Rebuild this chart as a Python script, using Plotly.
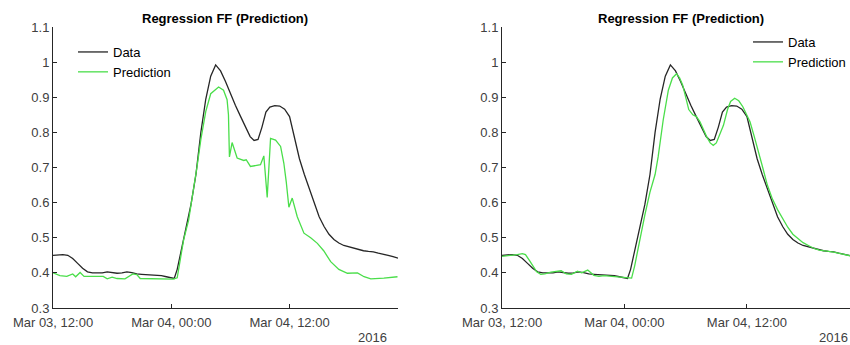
import pandas as pd
import plotly.graph_objects as go

# ---------------- data (hours after 2016-03-03 12:00) ----------------
data_hours = [0, 0.5, 1.0, 1.5, 2.0, 2.5, 3.0, 3.5, 4.0, 4.5, 5.0, 5.5, 6.0, 6.5, 7.0, 7.5,
              8.0, 8.5, 9.0, 9.5, 10.0, 10.5, 11.0, 11.5, 12.0, 12.3, 12.6, 13.0, 13.5, 14.0,
              14.5, 15.0, 15.5, 16.0, 16.5, 17.0, 17.5, 18.0, 18.5, 19.0, 19.5, 20.0, 20.4,
              20.8, 21.2, 21.6, 22.0, 22.5, 23.0, 23.5, 24.0, 24.5, 25.0, 25.5, 26.0, 26.5,
              27.0, 27.5, 28.0, 28.5, 29.0, 29.5, 30.0, 30.5, 31.0, 31.5, 32.0, 32.5, 33.0,
              33.5, 34.0, 34.5, 35.0]
data_vals = [0.450, 0.451, 0.452, 0.450, 0.441, 0.427, 0.413, 0.403, 0.400, 0.400, 0.400,
             0.403, 0.401, 0.399, 0.400, 0.403, 0.401, 0.397, 0.396, 0.395, 0.395, 0.394,
             0.392, 0.389, 0.386, 0.384, 0.410, 0.465, 0.535, 0.595, 0.680, 0.800, 0.895,
             0.960, 0.992, 0.975, 0.945, 0.910, 0.877, 0.847, 0.815, 0.788, 0.777, 0.780,
             0.815, 0.858, 0.872, 0.876, 0.875, 0.866, 0.845, 0.785, 0.725, 0.680, 0.638,
             0.600, 0.560, 0.532, 0.510, 0.495, 0.485, 0.478, 0.474, 0.470, 0.467, 0.463,
             0.461, 0.460, 0.456, 0.454, 0.450, 0.446, 0.442]

pred_left_hours = [0, 0.7, 1.4, 2.0, 2.3, 2.75, 3.15, 4.3, 5.1, 5.5, 6.0, 6.5, 7.3, 8.1, 8.5,
                   8.85, 9.9, 12.2, 12.6, 13.0, 13.25, 13.76, 14.1, 14.6, 15.0, 15.5, 16.0,
                   16.8, 17.3, 17.66, 17.8, 17.9, 18.17, 18.68, 19.35, 19.6, 20.03, 20.5, 21.05,
                   21.39, 21.73, 22.07, 22.58, 23.09, 23.42, 23.66, 23.93, 24.27, 24.78, 25.46,
                   26.14, 26.82, 27.46, 28.17, 29.0, 29.87, 30.89, 31.56, 32.24, 33.56, 34.95]
pred_left_vals = [0.400, 0.392, 0.390, 0.397, 0.389, 0.401, 0.390, 0.390, 0.390, 0.383, 0.388,
                  0.384, 0.383, 0.397, 0.395, 0.384, 0.383, 0.382, 0.386, 0.450, 0.494, 0.550,
                  0.608, 0.700, 0.780, 0.860, 0.910, 0.929, 0.920, 0.893, 0.850, 0.730, 0.771,
                  0.727, 0.720, 0.722, 0.703, 0.705, 0.708, 0.733, 0.615, 0.783, 0.778, 0.760,
                  0.712, 0.660, 0.587, 0.613, 0.560, 0.513, 0.500, 0.484, 0.463, 0.432, 0.410,
                  0.399, 0.400, 0.389, 0.383, 0.385, 0.389]

pred_right_hours = [0, 0.5, 1.0, 1.5, 2.0, 2.3, 2.7, 3.0, 3.4, 3.8, 4.2, 4.8, 5.4, 5.8, 6.3,
                    6.8, 7.4, 7.8, 8.4, 9.0, 9.5, 10.0, 10.5, 11.0, 11.5, 12.0, 12.7, 13.0,
                    13.5, 14.0, 14.5, 15.0, 15.3, 15.8, 16.3, 16.7, 17.1, 17.4, 17.7, 18.0,
                    18.3, 18.7, 19.05, 19.4, 19.7, 20.05, 20.4, 20.7, 21.0, 21.3, 21.7, 22.1,
                    22.4, 22.8, 23.2, 23.6, 24.0, 24.3, 24.7, 25.1, 25.5, 26.0, 26.5, 27.0,
                    27.5, 28.0, 28.5, 28.9, 29.5, 30.2, 30.7, 31.1, 31.6, 32.0, 32.5, 33.0,
                    33.5, 34.1, 35.0]
pred_right_vals = [0.447, 0.448, 0.450, 0.452, 0.455, 0.452, 0.435, 0.420, 0.403, 0.396,
                   0.397, 0.402, 0.404, 0.406, 0.397, 0.396, 0.405, 0.400, 0.408, 0.393,
                   0.390, 0.392, 0.391, 0.390, 0.388, 0.386, 0.385, 0.420, 0.494, 0.565,
                   0.630, 0.680, 0.730, 0.836, 0.920, 0.955, 0.967, 0.955, 0.935, 0.895,
                   0.865, 0.850, 0.845, 0.830, 0.810, 0.788, 0.770, 0.763, 0.770, 0.790,
                   0.820, 0.865, 0.888, 0.897, 0.890, 0.873, 0.850, 0.830, 0.790, 0.750,
                   0.705, 0.650, 0.610, 0.580, 0.555, 0.530, 0.510, 0.500, 0.486, 0.475,
                   0.468, 0.465, 0.462, 0.461, 0.459, 0.456, 0.453, 0.448, 0.443]

tick_hours = [0, 12, 24]
tick_labels = ["Mar 03, 12:00", "Mar 04, 00:00", "Mar 04, 12:00"]
y_ticks = [0.3, 0.4, 0.5, 0.6, 0.7, 0.8, 0.9, 1.0, 1.1]
y_tick_labels = ["0.3", "0.4", "0.5", "0.6", "0.7", "0.8", "0.9", "1", "1.1"]
title_text = "Regression FF (Prediction)"
year_text = "2016"

base = pd.Timestamp("2016-03-03 12:00")
def to_time(hours):
    return [base + pd.Timedelta(hours=h) for h in hours]

W, H = 850, 345
BLACK = "#262626"
GREEN = "#4ade4a"
FONT = "Liberation Sans, Arial, sans-serif"

fig = go.Figure()
fig.add_trace(go.Scatter(x=to_time(data_hours), y=data_vals, mode="lines", name="Data",
                         line=dict(color=BLACK, width=1.3), xaxis="x", yaxis="y", legend="legend"))
fig.add_trace(go.Scatter(x=to_time(pred_left_hours), y=pred_left_vals, mode="lines", name="Prediction",
                         line=dict(color=GREEN, width=1.3), xaxis="x", yaxis="y", legend="legend"))
fig.add_trace(go.Scatter(x=to_time(data_hours), y=data_vals, mode="lines", name="Data",
                         line=dict(color=BLACK, width=1.3), xaxis="x2", yaxis="y2", legend="legend2"))
fig.add_trace(go.Scatter(x=to_time(pred_right_hours), y=pred_right_vals, mode="lines", name="Prediction",
                         line=dict(color=GREEN, width=1.3), xaxis="x2", yaxis="y2", legend="legend2"))

def px_x(p):
    return p / W

def px_y(p):
    return 1 - p / H

xcommon = dict(type="date", showgrid=False, zeroline=False, showline=True, linecolor=BLACK,
               linewidth=1, ticks="inside", ticklen=4, tickcolor=BLACK, automargin=False,
               tickvals=to_time(tick_hours), ticktext=tick_labels, ticklabelstandoff=2,
               tickfont=dict(family=FONT, size=13, color="#404040"))
ycommon = dict(range=[0.3, 1.1], showgrid=False, zeroline=False, showline=True, linecolor=BLACK,
               linewidth=1, ticks="inside", ticklen=4, tickcolor=BLACK, automargin=False,
               tickvals=y_ticks, ticktext=y_tick_labels,
               tickfont=dict(family=FONT, size=13, color="#404040"))

end_left = base + pd.Timedelta(hours=35)
end_right = base + pd.Timedelta(hours=34.1)

fig.update_layout(
    width=W, height=H, margin=dict(l=0, r=0, t=0, b=0, autoexpand=False),
    paper_bgcolor="white", plot_bgcolor="white",
    font=dict(family=FONT, size=13, color="#000000"),
    xaxis=dict(xcommon, domain=[px_x(53), px_x(398)], range=[base, end_left], anchor="y"),
    yaxis=dict(ycommon, domain=[px_y(308), px_y(27)], anchor="x"),
    xaxis2=dict(xcommon, domain=[px_x(502), 1.0], range=[base, end_right], anchor="y2"),
    yaxis2=dict(ycommon, domain=[px_y(308), px_y(27)], anchor="x2"),
    legend=dict(x=px_x(73), y=px_y(37), xanchor="left", yanchor="top", bgcolor="rgba(0,0,0,0)",
                font=dict(family=FONT, size=13, color="#000000"), tracegroupgap=0),
    legend2=dict(x=px_x(748), y=px_y(27), xanchor="left", yanchor="top", bgcolor="rgba(0,0,0,0)",
                 font=dict(family=FONT, size=13, color="#000000"), tracegroupgap=0),
    showlegend=True,
)

annotations = []
for cx in (225, 681):
    annotations.append(dict(text="<b>" + title_text + "</b>", x=px_x(cx), y=px_y(18), xref="paper",
                            yref="paper", showarrow=False, xanchor="center", yanchor="middle",
                            font=dict(family=FONT, size=13, color="#000000")))
for cx in (372, 833):
    annotations.append(dict(text=year_text, x=px_x(cx), y=px_y(337), xref="paper", yref="paper",
                            showarrow=False, xanchor="center", yanchor="middle",
                            font=dict(family=FONT, size=13, color="#404040")))
fig.update_layout(annotations=annotations)

fig.write_html("out.html")
